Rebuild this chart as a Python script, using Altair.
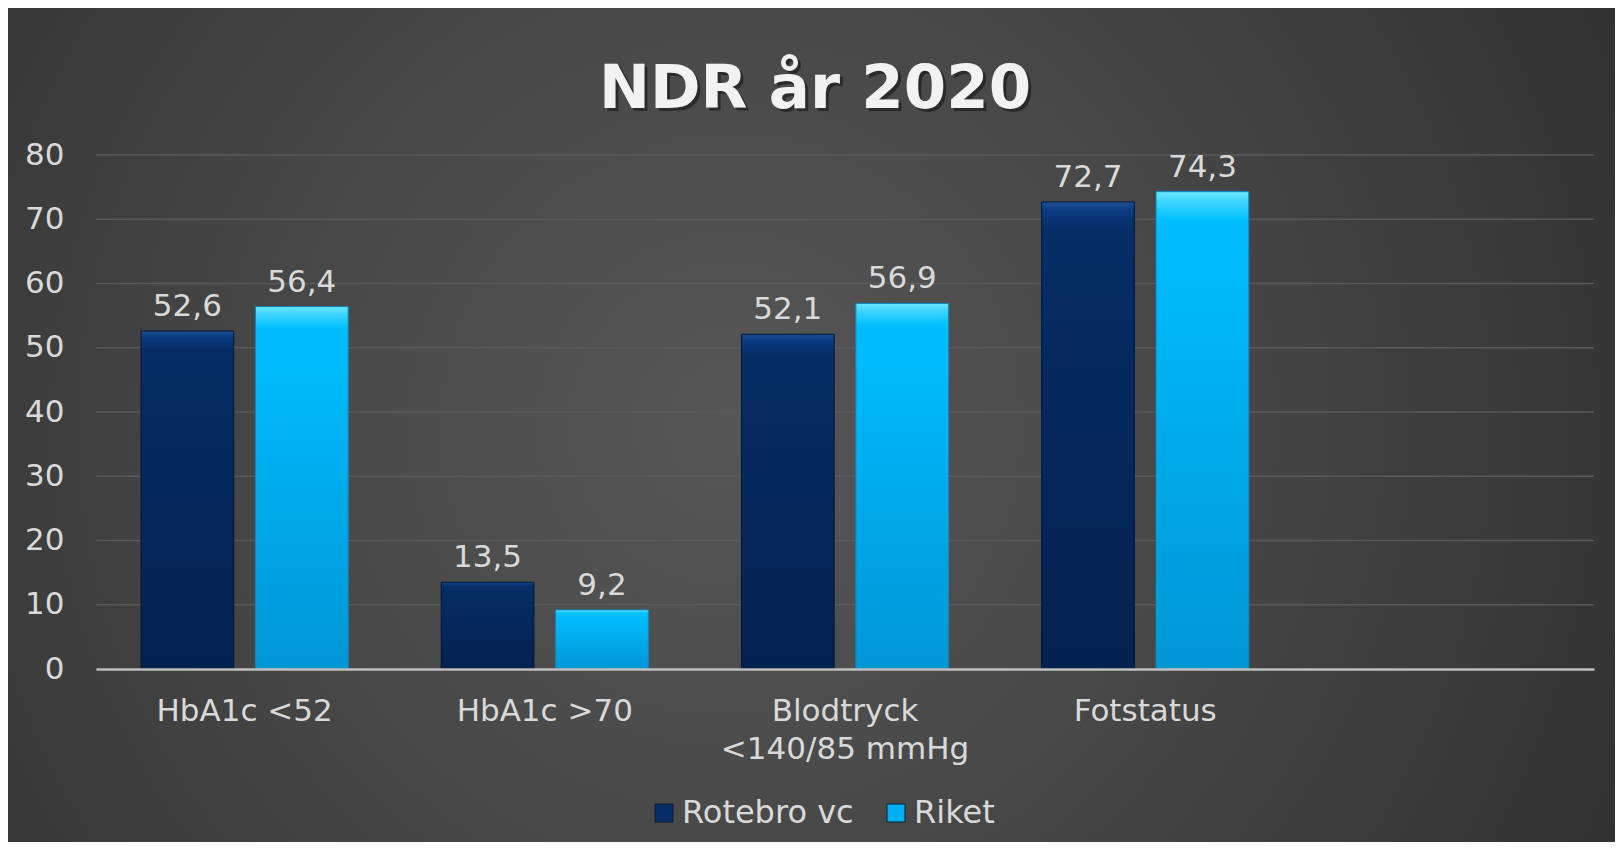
import altair as alt
import pandas as pd

# ---- data ----
categories = ["HbA1c <52", "HbA1c >70", "Blodtryck <140/85 mmHg", "Fotstatus"]
series = ["Rotebro vc", "Riket"]
rotebro_vc = [52.6, 13.5, 52.1, 72.7]
riket = [56.4, 9.2, 56.9, 74.3]
x_domain = categories + [" "]
y_ticks = [0, 10, 20, 30, 40, 50, 60, 70, 80]
grid_ticks = [10, 20, 30, 40, 50, 60, 70, 80]
title_text = "NDR år 2020"

rows = []
for c, a, b in zip(categories, rotebro_vc, riket):
    rows.append({"category": c, "series": series[0], "value": a})
    rows.append({"category": c, "series": series[1], "value": b})
df = pd.DataFrame(rows)
grid_df = pd.DataFrame({"value": grid_ticks})
one = pd.DataFrame({"k": [0]})

# ---- layout / style ----
W, H = 1498, 514
PAD = {"left": 88, "top": 147, "right": 21, "bottom": 173}
FONT = "DejaVu Sans"
TXT = "#d9d9d9"
FS = 31

x_enc = alt.X(
    "category:N",
    sort=x_domain,
    scale=alt.Scale(domain=x_domain, paddingInner=0.31, paddingOuter=0.15),
    axis=alt.Axis(
        title=None, labelFont=FONT, labelFontSize=FS, labelColor=TXT,
        labelPadding=27, labelLineHeight=38, ticks=False, tickSize=0,
        domainColor="#bfbfbf", domainWidth=2.5, grid=False, labelAngle=0,
        labelLimit=500, zindex=1,
        labelExpr="datum.label == 'Blodtryck <140/85 mmHg' ? ['Blodtryck', '<140/85 mmHg'] : datum.label",
    ),
)
xoff_enc = alt.XOffset(
    "series:N", sort=series,
    scale=alt.Scale(domain=series, paddingInner=0.19, paddingOuter=0),
)
y_scale = alt.Scale(domain=[0, 80], nice=False)
y_axis = alt.Axis(
    title=None, values=y_ticks, labelFont=FONT, labelFontSize=FS,
    labelColor=TXT, labelPadding=32, ticks=False, tickSize=0,
    domain=False, grid=False, zindex=1,
)
y_enc = alt.Y("value:Q", scale=y_scale, axis=y_axis)

bg_grad = alt.RadialGradient(
    gradient="radial",
    stops=[
        alt.GradientStop(color="#575757", offset=0),
        alt.GradientStop(color="#444444", offset=0.45),
        alt.GradientStop(color="#282828", offset=1),
    ],
    x1=0.45, y1=0.5, r1=0, x2=0.45, y2=0.5, r2=0.75,
)
background = alt.Chart(one).mark_rect(color=bg_grad).encode(
    x=alt.value(-PAD["left"]), x2=alt.value(W + PAD["right"]),
    y=alt.value(-PAD["top"]), y2=alt.value(H + PAD["bottom"]),
)

grid = alt.Chart(grid_df).mark_rule(color="#5a5a5a", strokeWidth=1.5).encode(
    y=y_enc,
    x=alt.value(0), x2=alt.value(W),
)

base_bars = alt.Chart(df).mark_bar().encode(
    x=x_enc, xOffset=xoff_enc, y=y_enc,
    color=alt.Color(
        "series:N", sort=series,
        scale=alt.Scale(domain=series, range=["#062d66", "#00b0f0"]),
        legend=alt.Legend(
            title=None, orient="none", legendX=552, legendY=642,
            direction="horizontal", symbolType="square", symbolSize=324,
            labelFont=FONT, labelFontSize=32, labelColor=TXT, labelOffset=2,
            labelLimit=400,
            columnPadding=26, symbolStrokeWidth=1, symbolStrokeColor="#0b1f3d",
            symbolOpacity=1, zindex=1,
        ),
    ),
)

dark_grad = alt.LinearGradient(
    gradient="linear",
    stops=[alt.GradientStop(color="#1d4f96", offset=0),
           alt.GradientStop(color="#0a3a80", offset=0.02),
           alt.GradientStop(color="#062d66", offset=0.06),
           alt.GradientStop(color="#03214f", offset=1)],
    x1=0, x2=0, y1=0, y2=1,
)
light_grad = alt.LinearGradient(
    gradient="linear",
    stops=[alt.GradientStop(color="#6fe6ff", offset=0),
           alt.GradientStop(color="#3fd5ff", offset=0.02),
           alt.GradientStop(color="#00bfff", offset=0.06),
           alt.GradientStop(color="#0096d6", offset=1)],
    x1=0, x2=0, y1=0, y2=1,
)

dark_bars = alt.Chart(df).transform_filter(alt.datum.series == series[0]).mark_bar(
    color=dark_grad, stroke="#021633", strokeWidth=1
).encode(x=x_enc, xOffset=xoff_enc, y=y_enc)
light_bars = alt.Chart(df).transform_filter(alt.datum.series == series[1]).mark_bar(
    color=light_grad, stroke="#0a88c0", strokeWidth=1
).encode(x=x_enc, xOffset=xoff_enc, y=y_enc)

labels = alt.Chart(df).transform_calculate(
    label="replace(format(datum.value, '.1f'), '.', ',')"
).mark_text(
    font=FONT, fontSize=FS, color=TXT, baseline="alphabetic", dy=-15
).encode(x=x_enc, xOffset=xoff_enc, y=y_enc, text="label:N")

TFS = 61
title_shadow = alt.Chart(one).mark_text(
    text=title_text, font=FONT, fontSize=TFS, fontWeight="bold",
    color="#111111", opacity=0.55, align="center", baseline="alphabetic",
).encode(x=alt.value(722), y=alt.value(-44))
title = alt.Chart(one).mark_text(
    text=title_text, font=FONT, fontSize=TFS, fontWeight="bold",
    color="#f2f2f2", align="center", baseline="alphabetic",
).encode(x=alt.value(719), y=alt.value(-47))

chart = alt.layer(
    background, grid, base_bars, dark_bars, light_bars, labels, title_shadow, title
).properties(
    width=W, height=H,
    autosize=alt.AutoSizeParams(type="none"),
    padding=PAD,
    background="#333333",
).configure_view(stroke=None)

chart.save("out.html", embed_options={"renderer": "svg", "actions": False})
